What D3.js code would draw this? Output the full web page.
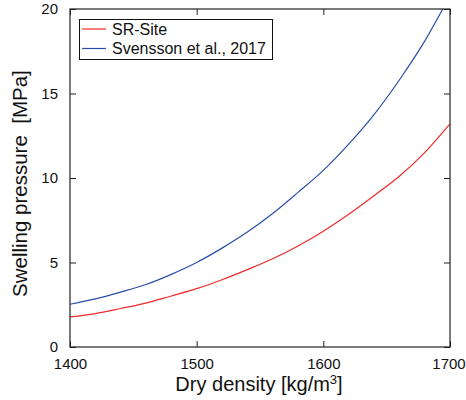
<!DOCTYPE html>
<html>
<head>
<meta charset="utf-8">
<script src="https://cdn.jsdelivr.net/npm/d3@7"></script>
<style>
  html, body { margin: 0; padding: 0; background: #fff; }
  svg { display: block; font-family: "Liberation Sans", Arial, sans-serif; }
</style>
</head>
<body>
<svg id="chart" width="466" height="400"></svg>
<script>
// Dry density (kg/m3) at which the curves are sampled
const density = [1400, 1420, 1440, 1460, 1480, 1500, 1520, 1540, 1560, 1580, 1600, 1620, 1640, 1660, 1680, 1700];
// Swelling pressure (MPa)
const srSite   = [1.78, 1.98, 2.28, 2.60, 3.02, 3.45, 3.98, 4.58, 5.22, 5.98, 6.85, 7.85, 8.95, 10.1, 11.5, 13.2];
const svensson = [2.53, 2.85, 3.25, 3.70, 4.30, 5.00, 5.85, 6.80, 7.90, 9.15, 10.45, 12.0, 13.75, 15.8, 18.1, 20.8];
const seriesNames = ["SR-Site", "Svensson et al., 2017"];
const xTicks = [1400, 1500, 1600, 1700];
const yTicks = [0, 5, 10, 15, 20];

const FONT = "'Liberation Sans', Arial, sans-serif";
const colors = ["#ee2a2a", "#2a4ea8"];
const m = { left: 70, top: 9, right: 450, bottom: 347 };

const svg = d3.select("#chart");
const x = d3.scaleLinear().domain([1400, 1700]).range([m.left, m.right]);
const y = d3.scaleLinear().domain([0, 20]).range([m.bottom, m.top]);

svg.append("defs").append("clipPath").attr("id", "plotclip")
  .append("rect").attr("x", m.left).attr("y", m.top)
  .attr("width", m.right - m.left).attr("height", m.bottom - m.top);

// Curves
const series = [srSite, svensson];
const line = d3.line().curve(d3.curveMonotoneX)
  .x((d, i) => x(density[i])).y(d => y(d));
const plot = svg.append("g").attr("clip-path", "url(#plotclip)");
series.forEach((vals, k) => {
  plot.append("path").datum(vals).attr("d", line)
    .attr("fill", "none").attr("stroke", colors[k]).attr("stroke-width", 1.2);
});

// Axes with inward ticks, mirrored on top and right
const tickSize = 6;
const fmt = d3.format("d");
const axBottom = svg.append("g").attr("transform", `translate(0,${m.bottom})`)
  .call(d3.axisBottom(x).tickValues(xTicks).tickFormat(fmt).tickSizeInner(-tickSize).tickSizeOuter(0).tickPadding(11));
const axTop = svg.append("g").attr("transform", `translate(0,${m.top})`)
  .call(d3.axisTop(x).tickValues(xTicks).tickSizeInner(-tickSize).tickSizeOuter(0).tickFormat(""));
const axLeft = svg.append("g").attr("transform", `translate(${m.left},0)`)
  .call(d3.axisLeft(y).tickValues(yTicks).tickFormat(fmt).tickSizeInner(-tickSize).tickSizeOuter(0).tickPadding(12));
const axRight = svg.append("g").attr("transform", `translate(${m.right},0)`)
  .call(d3.axisRight(y).tickValues(yTicks).tickSizeInner(-tickSize).tickSizeOuter(0).tickFormat(""));

[axBottom, axTop, axLeft, axRight].forEach(a => {
  a.select(".domain").remove();
  a.selectAll(".tick line").attr("stroke", "#222");
  a.selectAll("text").attr("font-size", 15).attr("fill", "#111")
    .attr("font-family", FONT);
});
// keep the last density label inside the page edge
axBottom.selectAll(".tick text").filter(d => d === 1700).attr("dx", -1.5);

// Frame
svg.append("rect").attr("x", m.left).attr("y", m.top)
  .attr("width", m.right - m.left).attr("height", m.bottom - m.top)
  .attr("fill", "none").attr("stroke", "#222").attr("stroke-width", 1.2);

// Legend
const lg = svg.append("g");
lg.append("rect").attr("x", 79.5).attr("y", 19.5).attr("width", 193).attr("height", 40)
  .attr("fill", "#fff").attr("stroke", "#111").attr("stroke-width", 1);
seriesNames.forEach((name, k) => {
  const cy = 29 + k * 19.5;
  lg.append("line").attr("x1", 82).attr("x2", 106).attr("y1", cy).attr("y2", cy)
    .attr("stroke", colors[k]).attr("stroke-width", 1.2);
  lg.append("text").attr("x", 112).attr("y", cy).attr("dy", "0.35em")
    .attr("font-size", 16).attr("fill", "#111").text(name);
});

// Axis titles
const xt = svg.append("text").attr("x", (m.left + m.right) / 2 - 1).attr("y", 391)
  .attr("text-anchor", "middle").attr("font-size", 20).attr("fill", "#111");
xt.append("tspan").text("Dry density [kg/m");
xt.append("tspan").attr("font-size", 13).attr("dy", -7).text("3");
xt.append("tspan").attr("dy", 7).text("]");

svg.append("text")
  .attr("transform", `translate(27,297) rotate(-90)`)
  .attr("text-anchor", "start").attr("font-size", 20.5).attr("fill", "#111")
  .attr("xml:space", "preserve").style("white-space", "pre")
  .text("Swelling pressure  [MPa]");
</script>
</body>
</html>
